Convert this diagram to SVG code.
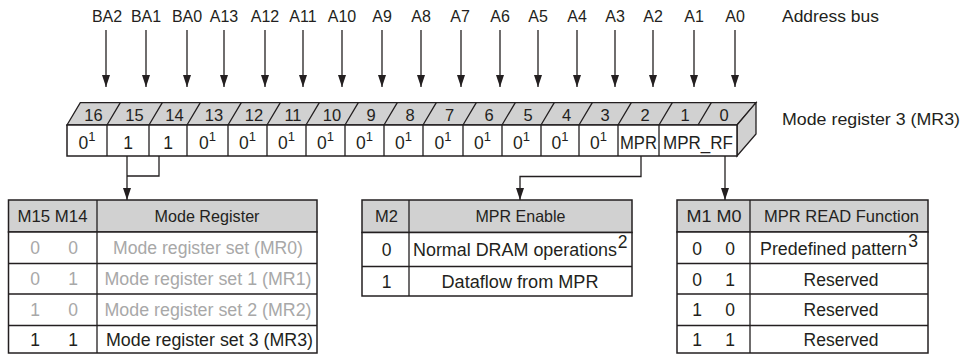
<svg xmlns="http://www.w3.org/2000/svg" width="961" height="354" viewBox="0 0 961 354">
<style>
  text { font-family: "Liberation Sans", Arial, sans-serif; fill: #231f20; }
  .lbl { font-size: 16px; text-anchor: middle; }
  .side { font-size: 17px; }
  .num { font-size: 16.5px; text-anchor: middle; }
  .cell { font-size: 17.5px; text-anchor: middle; }
  .th { font-size: 16.5px; text-anchor: middle; }
  .td { font-size: 17.5px; text-anchor: middle; }
  .dim { fill: #a8a8a8; }
  .ln { stroke: #231f20; stroke-width: 1.3; fill: none; }
  .box { stroke: #231f20; stroke-width: 1.5; fill: #ffffff; }
  .hdr { stroke: #231f20; stroke-width: 1.5; fill: #d1d1d1; }
  .gray { stroke: #231f20; stroke-width: 1.3; fill: #d1d1d1; }
</style>
<defs>
  <marker id="ah" viewBox="0 0 12 8" refX="12" refY="4" markerWidth="12" markerHeight="8" markerUnits="userSpaceOnUse" orient="auto">
    <path d="M0,0 L12,4 L0,8 z" fill="#231f20"/>
  </marker>
</defs>

<g id="address-labels">
  <text class="lbl" x="107" y="22">BA2</text>
  <text class="lbl" x="146" y="22">BA1</text>
  <text class="lbl" x="187" y="22">BA0</text>
  <text class="lbl" x="224" y="22">A13</text>
  <text class="lbl" x="265" y="22">A12</text>
  <text class="lbl" x="303" y="22">A11</text>
  <text class="lbl" x="342" y="22">A10</text>
  <text class="lbl" x="382" y="22">A9</text>
  <text class="lbl" x="421" y="22">A8</text>
  <text class="lbl" x="460" y="22">A7</text>
  <text class="lbl" x="500" y="22">A6</text>
  <text class="lbl" x="538" y="22">A5</text>
  <text class="lbl" x="577" y="22">A4</text>
  <text class="lbl" x="615" y="22">A3</text>
  <text class="lbl" x="653" y="22">A2</text>
  <text class="lbl" x="694" y="22">A1</text>
  <text class="lbl" x="735" y="22">A0</text>
  <text class="side" x="782" y="22" textLength="97" lengthAdjust="spacingAndGlyphs">Address bus</text>
</g>

<g id="register">
  <polygon class="gray" points="67,125 80.3,102.7 756,102.7 737,125"/>
  <polygon class="gray" points="737,125 756,102.7 756,134 737,156"/>
  <rect class="box" x="67" y="125" width="670" height="31"/>
  <g class="ln">
    <path d="M107,125 l13.3,-22.3 M149,125 l13.3,-22.3 M187,125 l13.3,-22.3 M228,125 l13.3,-22.3 M267,125 l13.3,-22.3 M306,125 l13.3,-22.3 M345,125 l13.3,-22.3 M384,125 l13.3,-22.3 M423,125 l13.3,-22.3 M463,125 l13.3,-22.3 M502,125 l13.3,-22.3 M541,125 l13.3,-22.3 M579,125 l13.3,-22.3 M618,125 l13.3,-22.3 M659,125 l13.3,-22.3 M698,125 l13.3,-22.3"/>
    <path d="M107,125 V156 M149,125 V156 M187,125 V156 M228,125 V156 M267,125 V156 M306,125 V156 M345,125 V156 M384,125 V156 M423,125 V156 M463,125 V156 M502,125 V156 M541,125 V156 M579,125 V156 M618,125 V156 M659,125 V156"/>
  </g>
  <text class="num" x="93.5" y="120.5">16</text>
  <text class="num" x="134.5" y="120.5">15</text>
  <text class="num" x="174.5" y="120.5">14</text>
  <text class="num" x="214" y="120.5">13</text>
  <text class="num" x="254" y="120.5">12</text>
  <text class="num" x="293" y="120.5">11</text>
  <text class="num" x="332" y="120.5">10</text>
  <text class="num" x="371" y="120.5">9</text>
  <text class="num" x="410" y="120.5">8</text>
  <text class="num" x="449.5" y="120.5">7</text>
  <text class="num" x="489" y="120.5">6</text>
  <text class="num" x="528" y="120.5">5</text>
  <text class="num" x="566.5" y="120.5">4</text>
  <text class="num" x="605" y="120.5">3</text>
  <text class="num" x="645" y="120.5">2</text>
  <text class="num" x="685" y="120.5">1</text>
  <text class="num" x="724" y="120.5">0</text>

  <text class="cell" x="87" y="148.5">0<tspan font-size="13" dy="-8">1</tspan></text>
  <text class="cell" x="128" y="148.5">1</text>
  <text class="cell" x="168" y="148.5">1</text>
  <text class="cell" x="207.5" y="148.5">0<tspan font-size="13" dy="-8">1</tspan></text>
  <text class="cell" x="247.5" y="148.5">0<tspan font-size="13" dy="-8">1</tspan></text>
  <text class="cell" x="286.5" y="148.5">0<tspan font-size="13" dy="-8">1</tspan></text>
  <text class="cell" x="325.5" y="148.5">0<tspan font-size="13" dy="-8">1</tspan></text>
  <text class="cell" x="364.5" y="148.5">0<tspan font-size="13" dy="-8">1</tspan></text>
  <text class="cell" x="403.5" y="148.5">0<tspan font-size="13" dy="-8">1</tspan></text>
  <text class="cell" x="443" y="148.5">0<tspan font-size="13" dy="-8">1</tspan></text>
  <text class="cell" x="482.5" y="148.5">0<tspan font-size="13" dy="-8">1</tspan></text>
  <text class="cell" x="521.5" y="148.5">0<tspan font-size="13" dy="-8">1</tspan></text>
  <text class="cell" x="560" y="148.5">0<tspan font-size="13" dy="-8">1</tspan></text>
  <text class="cell" x="598.5" y="148.5">0<tspan font-size="13" dy="-8">1</tspan></text>
  <text class="cell" x="638.5" y="148.5" textLength="37" lengthAdjust="spacingAndGlyphs">MPR</text>
  <text class="cell" x="698" y="148.5" textLength="70" lengthAdjust="spacingAndGlyphs">MPR_RF</text>
  <text class="side" x="782" y="125" textLength="178" lengthAdjust="spacingAndGlyphs">Mode register 3 (MR3)</text>
</g>

<g id="connectors">
  <g class="ln">
    <path d="M106,30 V87" marker-end="url(#ah)"/>
    <path d="M146,30 V87" marker-end="url(#ah)"/>
    <path d="M187,30 V87" marker-end="url(#ah)"/>
    <path d="M224,30 V87" marker-end="url(#ah)"/>
    <path d="M265,30 V87" marker-end="url(#ah)"/>
    <path d="M303,30 V87" marker-end="url(#ah)"/>
    <path d="M342,30 V87" marker-end="url(#ah)"/>
    <path d="M382,30 V87" marker-end="url(#ah)"/>
    <path d="M421,30 V87" marker-end="url(#ah)"/>
    <path d="M461,30 V87" marker-end="url(#ah)"/>
    <path d="M500,30 V87" marker-end="url(#ah)"/>
    <path d="M538,30 V87" marker-end="url(#ah)"/>
    <path d="M577,30 V87" marker-end="url(#ah)"/>
    <path d="M615,30 V87" marker-end="url(#ah)"/>
    <path d="M653,30 V87" marker-end="url(#ah)"/>
    <path d="M694,30 V87" marker-end="url(#ah)"/>
    <path d="M735,30 V87" marker-end="url(#ah)"/>
    <path d="M159,156 V176 H127"/>
    <path d="M127,156 V200" marker-end="url(#ah)"/>
    <path d="M641,156 V176.5 H520 V200" marker-end="url(#ah)"/>
    <path d="M725,156 V200" marker-end="url(#ah)"/>
  </g>
</g>

<g id="table-mode-register">
  <rect class="hdr" x="8.5" y="200" width="308.5" height="32"/>
  <rect class="box" x="8.5" y="232" width="308.5" height="121"/>
  <path class="ln" d="M97,200 V353 M8.5,263.5 H317 M8.5,294 H317 M8.5,325.5 H317" stroke-width="1.5"/>
  <text class="th" x="52.5" y="222" textLength="70" lengthAdjust="spacingAndGlyphs">M15 M14</text>
  <text class="th" x="207" y="222" textLength="105" lengthAdjust="spacingAndGlyphs">Mode Register</text>
  <text class="td dim" x="35" y="254">0</text>
  <text class="td dim" x="73" y="254">0</text>
  <text class="td dim" x="208" y="254" textLength="190" lengthAdjust="spacingAndGlyphs">Mode register set (MR0)</text>
  <text class="td dim" x="35" y="285">0</text>
  <text class="td dim" x="73" y="285">1</text>
  <text class="td dim" x="208" y="285" textLength="207" lengthAdjust="spacingAndGlyphs">Mode register set 1 (MR1)</text>
  <text class="td dim" x="35" y="316">1</text>
  <text class="td dim" x="73" y="316">0</text>
  <text class="td dim" x="208" y="316" textLength="207" lengthAdjust="spacingAndGlyphs">Mode register set 2 (MR2)</text>
  <text class="td" x="35" y="345.5">1</text>
  <text class="td" x="73" y="345.5">1</text>
  <text class="td" x="209.5" y="345.5" textLength="207" lengthAdjust="spacingAndGlyphs">Mode register set 3 (MR3)</text>
</g>

<g id="table-mpr-enable">
  <rect class="hdr" x="362" y="200" width="270" height="32.5"/>
  <rect class="box" x="362" y="232.5" width="270" height="63.5"/>
  <path class="ln" d="M409,200 V296 M362,266.5 H632" stroke-width="1.5"/>
  <text class="th" x="386.5" y="222">M2</text>
  <text class="th" x="520.5" y="222" textLength="90" lengthAdjust="spacingAndGlyphs">MPR Enable</text>
  <text class="td" x="386.5" y="256">0</text>
  <text class="td" x="515" y="256" textLength="204" lengthAdjust="spacingAndGlyphs">Normal DRAM operations</text>
  <text class="td" x="622.5" y="248" font-size="13">2</text>
  <text class="td" x="386.5" y="288">1</text>
  <text class="td" x="520" y="288" textLength="157" lengthAdjust="spacingAndGlyphs">Dataflow from MPR</text>
</g>

<g id="table-mpr-read">
  <rect class="hdr" x="677" y="200" width="251" height="32"/>
  <rect class="box" x="677" y="232" width="251" height="121"/>
  <path class="ln" d="M750,200 V353 M677,263.5 H928 M677,294 H928 M677,325.5 H928" stroke-width="1.5"/>
  <text class="th" x="714" y="222" textLength="55" lengthAdjust="spacingAndGlyphs">M1  M0</text>
  <text class="th" x="841.5" y="222" textLength="155" lengthAdjust="spacingAndGlyphs">MPR READ Function</text>
  <text class="td" x="697" y="254.5">0</text>
  <text class="td" x="730" y="254.5">0</text>
  <text class="td" x="833.5" y="254.5" textLength="147" lengthAdjust="spacingAndGlyphs">Predefined  pattern</text>
  <text class="td" x="913" y="246.5" font-size="13">3</text>
  <text class="td" x="697" y="285.5">0</text>
  <text class="td" x="730" y="285.5">1</text>
  <text class="td" x="841" y="285.5">Reserved</text>
  <text class="td" x="697" y="316">1</text>
  <text class="td" x="730" y="316">0</text>
  <text class="td" x="841" y="316">Reserved</text>
  <text class="td" x="697" y="345.5">1</text>
  <text class="td" x="730" y="345.5">1</text>
  <text class="td" x="841" y="345.5">Reserved</text>
</g>
</svg>
